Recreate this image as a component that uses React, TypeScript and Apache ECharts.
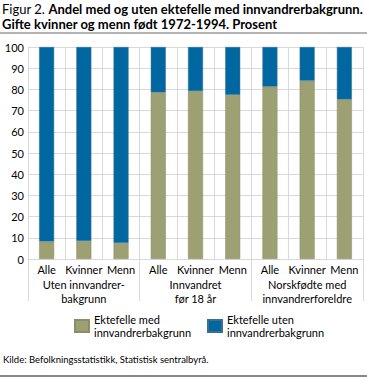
import React, { useEffect, useRef } from "react";
import * as echarts from "echarts";

const categories = ["Alle", "Kvinner", "Menn", "Alle", "Kvinner", "Menn", "Alle", "Kvinner", "Menn"];
const groups = ["Uten innvandrer-\nbakgrunn", "Innvandret\nfør 18 år", "Norskfødte med\ninnvandrerforeldre"];
const medValues = [8.2, 8.5, 7.5, 78.6, 79.2, 77.4, 81.3, 84.1, 75.3];
const utenValues = [91.8, 91.5, 92.5, 21.4, 20.8, 22.6, 18.7, 15.9, 24.7];
const seriesNames = ["Ektefelle med\ninnvandrerbakgrunn", "Ektefelle uten\ninnvandrerbakgrunn"];
const titleNormal = "Figur 2. ";
const titleBold1 = "Andel med og uten ektefelle med innvandrerbakgrunn.";
const titleBold2 = "Gifte kvinner og menn født 1972-1994. Prosent";
const source = "Kilde: Befolkningsstatistikk, Statistisk sentralbyrå.";

const FONT = "Lato";
const OLIVE = "#9da072";
const BLUE = "#0067a1";
const GRID = "#d9d9d9";

export default function App() {
  const ref = useRef<HTMLDivElement>(null);
  useEffect(() => {
    const chart = echarts.init(ref.current!, null, { renderer: "svg" });
    const LH = 13.4;
    const legendText = { fontFamily: FONT, fontSize: 11, color: "#000", lineHeight: LH, padding: [LH, 0, 0, 0] };
    chart.setOption({
      animation: false,
      textStyle: { fontFamily: FONT },
      title: {
        left: 2,
        top: 1,
        padding: 0,
        text: `{n|${titleNormal}}{b|${titleBold1}}\n{b|${titleBold2}}`,
        textStyle: {
          rich: {
            n: { fontFamily: FONT, fontSize: 13, fontWeight: "normal", color: "#000", lineHeight: 15.5 },
            b: { fontFamily: FONT, fontSize: 13, fontWeight: "bold", color: "#000", lineHeight: 15.5 },
          },
        },
      },
      grid: { left: 28, right: 4, top: 47, bottom: 118, containLabel: false },
      legend: [
        {
          data: [seriesNames[0]],
          left: 74,
          top: 306,
          padding: 0,
          icon: "rect",
          itemWidth: 14,
          itemHeight: 12,
          itemGap: 0,
          selectedMode: false,
          textStyle: legendText,
        },
        {
          data: [seriesNames[1]],
          left: 207,
          top: 306,
          padding: 0,
          icon: "rect",
          itemWidth: 14,
          itemHeight: 12,
          itemGap: 0,
          selectedMode: false,
          textStyle: legendText,
        },
      ],
      xAxis: [
        {
          type: "category",
          data: categories,
          position: "bottom",
          axisLine: { show: true, lineStyle: { color: GRID, width: 1 } },
          axisTick: { show: false },
          axisLabel: { interval: 0, margin: 5, fontSize: 11, color: "#000", fontFamily: FONT },
          splitLine: { show: true, interval: 0, lineStyle: { color: GRID, width: 1 } },
        },
        {
          type: "category",
          data: groups,
          position: "bottom",
          axisLine: { show: false },
          axisTick: { show: true, interval: 0, length: 42, lineStyle: { color: GRID, width: 1 } },
          axisLabel: { interval: 0, margin: 19, fontSize: 11, lineHeight: LH, color: "#000", fontFamily: FONT },
          splitLine: { show: false },
        },
      ],
      yAxis: {
        type: "value",
        min: 0,
        max: 100,
        interval: 10,
        axisLine: { show: true, lineStyle: { color: GRID } },
        axisTick: { show: false },
        axisLabel: { fontSize: 11, color: "#000", margin: 4, fontFamily: FONT },
        splitLine: { show: true, lineStyle: { color: GRID, width: 1 } },
      },
      series: [
        {
          name: seriesNames[0],
          type: "bar",
          stack: "s",
          barWidth: 15,
          data: medValues,
          itemStyle: { color: OLIVE, borderColor: "#8b8d68", borderWidth: 0.5 },
        },
        {
          name: seriesNames[1],
          type: "bar",
          stack: "s",
          barWidth: 15,
          data: utenValues,
          itemStyle: { color: BLUE, borderColor: "#3f6f8f", borderWidth: 0.5 },
        },
      ],
      graphic: [
        { type: "rect", shape: { x: 0, y: 32, width: 367, height: 2 }, style: { fill: "#b3b3b3" } },
        {
          type: "text",
          left: 3,
          top: 354,
          style: { text: source, fontFamily: FONT, fontSize: 9.5, fill: "#000" },
        },
        { type: "rect", shape: { x: 0, y: 375, width: 367, height: 2 }, style: { fill: "#888" } },
      ],
    });
    return () => chart.dispose();
  }, []);
  return (
    <div style={{ position: "absolute", left: 0, top: 0, width: 367, height: 377, background: "#fff" }}>
      <div ref={ref} style={{ width: 367, height: 377 }} />
    </div>
  );
}
